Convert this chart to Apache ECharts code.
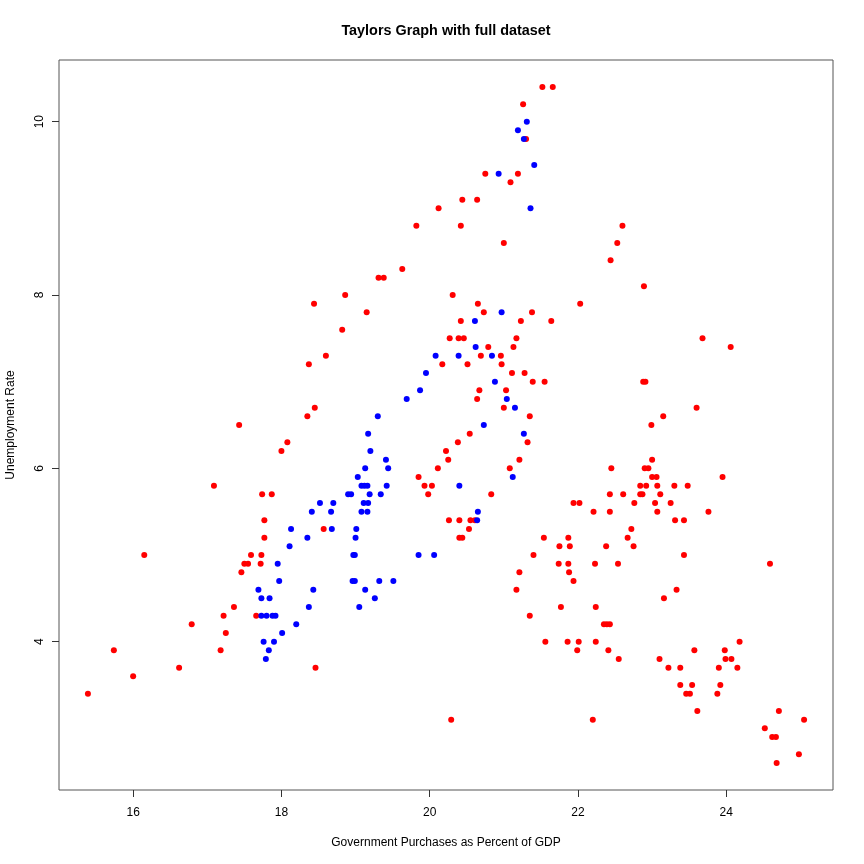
<!DOCTYPE html>
<html>
<head>
<meta charset="utf-8">
<script src="https://cdn.jsdelivr.net/npm/echarts@6/dist/echarts.min.js"></script>
<style>html,body{margin:0;padding:0;background:#fff}#c{width:864px;height:864px}</style>
</head>
<body>
<div id="c"></div>
<script>
// Government purchases (% of GDP) vs unemployment rate
const redPoints = [
  [17.43,6.5],[17.09,5.8],[16.15,5.0],[17.36,4.4],[17.22,4.3],[16.79,4.2],[17.25,4.1],[17.18,3.9],[15.74,3.9],[16.62,3.7],[16.0,3.6],[15.39,3.4],
  [19.63,8.3],[19.31,8.2],[19.38,8.2],[18.86,8.0],[18.44,7.9],[19.15,7.8],[18.82,7.6],[18.60,7.3],[18.37,7.2],[18.45,6.7],[18.35,6.6],[18.08,6.3],[18.0,6.2],
  [19.85,5.9],[17.74,5.7],[17.87,5.7],[17.77,5.4],[18.57,5.3],[17.77,5.2],[17.59,5.0],[17.73,5.0],[17.50,4.9],[17.55,4.9],[17.72,4.9],[17.46,4.8],[17.66,4.3],[18.46,3.7],
  [21.52,10.4],[21.66,10.4],[21.26,10.2],[21.30,9.8],[20.75,9.4],[21.19,9.4],[21.09,9.3],[20.44,9.1],[20.64,9.1],[20.12,9.0],[19.82,8.8],[20.42,8.8],[21.0,8.6],[20.31,8.0],
  [20.65,7.9],[22.03,7.9],[20.73,7.8],[21.38,7.8],[20.42,7.7],[21.23,7.7],[21.64,7.7],[20.27,7.5],[20.39,7.5],[20.46,7.5],[21.17,7.5],[20.79,7.4],[21.13,7.4],
  [20.69,7.3],[20.96,7.3],[20.17,7.2],[20.51,7.2],[20.97,7.2],[21.11,7.1],[21.28,7.1],[21.39,7.0],[21.55,7.0],[20.67,6.9],[21.03,6.9],[20.64,6.8],[21.0,6.7],
  [21.35,6.6],[20.54,6.4],[20.38,6.3],[21.32,6.3],[20.22,6.2],[20.25,6.1],[21.21,6.1],[20.11,6.0],[21.08,6.0],[19.93,5.8],[20.03,5.8],[19.98,5.7],[20.83,5.7],
  [21.94,5.6],[22.02,5.6],[20.26,5.4],[20.40,5.4],[20.55,5.4],[20.61,5.4],[20.53,5.3],[20.40,5.2],[20.44,5.2],[21.54,5.2],[21.87,5.2],[21.75,5.1],[21.89,5.1],
  [21.40,5.0],[21.74,4.9],[21.87,4.9],[21.21,4.8],[21.88,4.8],[21.94,4.7],[21.17,4.6],[21.77,4.4],[21.35,4.3],[21.56,4.0],[21.86,4.0],[22.01,4.0],[21.99,3.9],[20.29,3.1],
  [22.60,8.8],[22.53,8.6],[22.44,8.4],[22.89,8.1],[23.68,7.5],[22.88,7.0],[22.91,7.0],[23.60,6.7],[23.15,6.6],[22.99,6.5],[23.00,6.1],[22.45,6.0],[22.90,6.0],[22.95,6.0],[23.00,5.9],[23.06,5.9],
  [22.84,5.8],[22.92,5.8],[23.07,5.8],[23.30,5.8],[23.48,5.8],[22.43,5.7],[22.61,5.7],[22.84,5.7],[22.87,5.7],[23.11,5.7],[22.76,5.6],[23.04,5.6],[23.25,5.6],
  [22.21,5.5],[22.43,5.5],[23.07,5.5],[23.76,5.5],[23.31,5.4],[23.43,5.4],[22.72,5.3],[22.67,5.2],[22.38,5.1],[22.75,5.1],[23.43,5.0],[22.23,4.9],[22.54,4.9],
  [23.33,4.6],[23.16,4.5],[22.24,4.4],[22.35,4.2],[22.39,4.2],[22.43,4.2],[22.24,4.0],[22.41,3.9],[23.57,3.9],[22.55,3.8],[23.10,3.8],[23.22,3.7],[23.38,3.7],
  [23.38,3.5],[23.54,3.5],[23.46,3.4],[23.51,3.4],[23.61,3.2],[22.20,3.1],
  [24.59,4.9],[24.18,4.0],[23.98,3.9],[23.99,3.8],[24.07,3.8],[23.90,3.7],[24.15,3.7],[23.92,3.5],[23.88,3.4],[24.71,3.2],[25.05,3.1],[24.52,3.0],[24.62,2.9],[24.67,2.9],[24.98,2.7],[24.68,2.6],
  [24.06,7.4],[23.95,5.9]
];
const bluePoints = [
  [19.69,6.8],[19.30,6.6],[19.17,6.4],[19.20,6.2],
  [19.41,6.1],[19.13,6.0],[19.44,6.0],[19.03,5.9],[19.08,5.8],[19.12,5.8],[19.16,5.8],[19.42,5.8],[18.90,5.7],[18.94,5.7],[19.19,5.7],[19.34,5.7],
  [18.52,5.6],[18.70,5.6],[19.11,5.6],[19.17,5.6],[18.41,5.5],[18.67,5.5],[19.08,5.5],[19.16,5.5],[18.13,5.3],[18.68,5.3],[19.01,5.3],[18.35,5.2],[19.0,5.2],
  [18.11,5.1],[18.97,5.0],[18.99,5.0],[17.95,4.9],[17.97,4.7],[18.96,4.7],[18.99,4.7],[19.32,4.7],[19.51,4.7],[17.69,4.6],[18.43,4.6],[19.13,4.6],
  [17.73,4.5],[17.84,4.5],[19.26,4.5],[18.37,4.4],[19.05,4.4],[17.73,4.3],[17.80,4.3],[17.88,4.3],[17.92,4.3],[18.20,4.2],[18.01,4.1],[17.76,4.0],[17.90,4.0],[17.83,3.9],[17.79,3.8],
  [21.31,10.0],[21.19,9.9],[21.27,9.8],[21.41,9.5],[20.93,9.4],[21.36,9.0],
  [20.97,7.8],[20.61,7.7],[20.62,7.4],[20.08,7.3],[20.39,7.3],[20.84,7.3],[19.95,7.1],[20.88,7.0],[19.87,6.9],[21.04,6.8],[21.15,6.7],[20.73,6.5],[21.27,6.4],[21.12,5.9],[20.40,5.8],
  [20.65,5.5],[20.64,5.4],[19.85,5.0],[20.06,5.0]
];
const xTicks = [16, 18, 20, 22, 24];
const yTicks = [4, 6, 8, 10];
const titleText = 'Taylors Graph with full dataset';
const xName = 'Government Purchases as Percent of GDP';
const yName = 'Unemployment Rate';

const FONT = 'Liberation Sans, Arial, Helvetica, sans-serif';
const chart = echarts.init(document.getElementById('c'), null, {renderer: 'canvas'});
chart.setOption({
  animation: false,
  backgroundColor: '#ffffff',
  textStyle: {fontFamily: FONT},
  title: {
    text: titleText,
    left: 446, top: 24, padding: 0,
    textAlign: 'center',
    textStyle: {fontFamily: FONT, fontWeight: 'bold', fontSize: 14.4, color: '#000'}
  },
  grid: {left: 59, right: 31, top: 60, bottom: 74, containLabel: false, outerBoundsMode: 'none',
         show: true, borderColor: '#555', borderWidth: 1, backgroundColor: 'transparent'},
  xAxis: {
    type: 'value', min: 15.0, max: 25.44,
    name: xName, nameLocation: 'middle', nameGap: 47,
    nameTextStyle: {fontFamily: FONT, fontSize: 12, color: '#000'},
    axisLine: {show: false},
    splitLine: {show: false},
    axisTick: {show: true, length: 7, inside: false, customValues: xTicks, lineStyle: {color: '#333'}},
    axisLabel: {customValues: xTicks, margin: 17, fontFamily: FONT, fontSize: 12, color: '#000'}
  },
  yAxis: {
    type: 'value', min: 2.288, max: 10.712,
    name: yName, nameLocation: 'middle', nameGap: 42,
    nameTextStyle: {fontFamily: FONT, fontSize: 12, color: '#000'},
    axisLine: {show: false},
    splitLine: {show: false},
    axisTick: {show: true, length: 7, inside: false, customValues: yTicks, lineStyle: {color: '#333'}},
    axisLabel: {customValues: yTicks, rotate: 90, margin: 13, fontFamily: FONT, fontSize: 12, color: '#000'}
  },
  series: [
    {type: 'scatter', name: 'red', data: redPoints, symbol: 'circle', symbolSize: 6, itemStyle: {color: '#ff0000', opacity: 1}, z: 2},
    {type: 'scatter', name: 'blue', data: bluePoints, symbol: 'circle', symbolSize: 6, itemStyle: {color: '#0000ff', opacity: 1}, z: 3}
  ]
});
</script>
</body>
</html>
